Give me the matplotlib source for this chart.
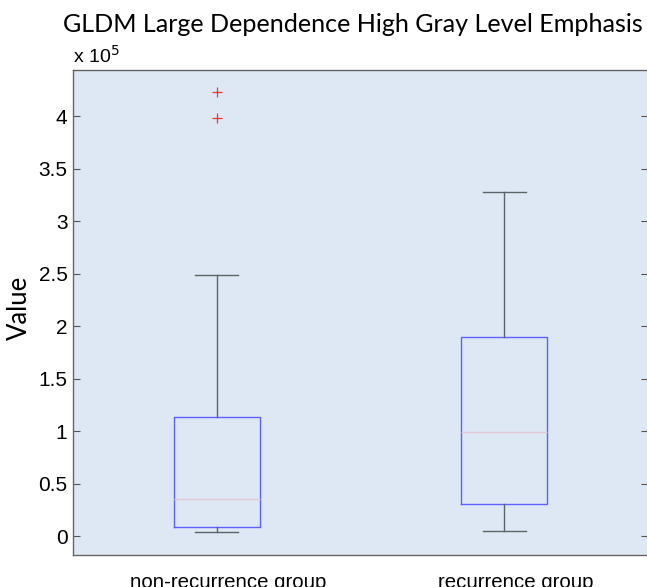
import matplotlib
matplotlib.use("Agg")
import matplotlib.pyplot as plt
import matplotlib.transforms as mtransforms

groups = ["non-recurrence group", "recurrence group"]
whislo = [0.04e5, 0.05e5]
q1 = [0.086e5, 0.305e5]
med = [0.35e5, 0.99e5]
q3 = [1.13e5, 1.895e5]
whishi = [2.49e5, 3.28e5]
fliers = [[3.98e5, 4.23e5], []]

title = "GLDM Large Dependence High Gray Level Emphasis"
ylabel = "Value"
yticks = [0, 0.5, 1, 1.5, 2, 2.5, 3, 3.5, 4]

stats = []
for i in range(len(groups)):
    stats.append(dict(label=groups[i], whislo=whislo[i], q1=q1[i], med=med[i],
                      q3=q3[i], whishi=whishi[i], fliers=fliers[i]))

fig = plt.figure(figsize=(6.47, 5.87), dpi=100)
ax = fig.add_axes([73/647, 1-555/587, (648-73)/647, (555-70)/587])
ax.set_facecolor("#dde8f4")

ax.bxp(stats, positions=[1, 2], widths=0.3, showfliers=True,
       boxprops=dict(color="#6060ff", linewidth=1.0),
       whiskerprops=dict(color="#5a6468", linewidth=1.0, linestyle="-"),
       capprops=dict(color="#5a6468", linewidth=1.0),
       medianprops=dict(color="#e2c8d8", linewidth=1.0),
       flierprops=dict(marker="+", markeredgecolor="#ff3030", markersize=7, markeredgewidth=0.9,
                       linestyle="none"),
       capwidths=0.15)

ax.set_xlim(0.5, 2.5)
ax.set_ylim(-0.18e5, 4.44e5)
ax.set_yticks([v*1e5 for v in yticks])
ax.set_yticklabels(["0", "0.5", "1", "1.5", "2", "2.5", "3", "3.5", "4"])
ax.tick_params(axis="y", direction="in", length=5, color="#555555", right=True, left=True,
               labelsize=15, pad=4)
ax.tick_params(axis="x", length=0, labelsize=14.7, pad=13)
offset = mtransforms.ScaledTranslation(0.115, 0, fig.dpi_scale_trans)
for lab in ax.get_xticklabels():
    lab.set_transform(lab.get_transform() + offset)
for lab in ax.get_yticklabels() + ax.get_xticklabels():
    lab.set_family(["Liberation Sans", "DejaVu Sans"])
for s in ax.spines.values():
    s.set_color("#666666")
    s.set_linewidth(1.0)

fig.text(353/647, 1-24/587, title, ha="center", va="center", fontsize=18.1,
         family=["Lato", "DejaVu Sans"])
ax.set_ylabel(ylabel, fontsize=18.5, family=["Lato", "DejaVu Sans"])
ax.yaxis.set_label_coords(-0.071, 0.51)
fig.text(73/647, 1-56/587, r"x 10$^{5}$", ha="left", va="center", fontsize=14,
         family=["Liberation Sans", "DejaVu Sans"])

fig.savefig("out.png", dpi=100)
